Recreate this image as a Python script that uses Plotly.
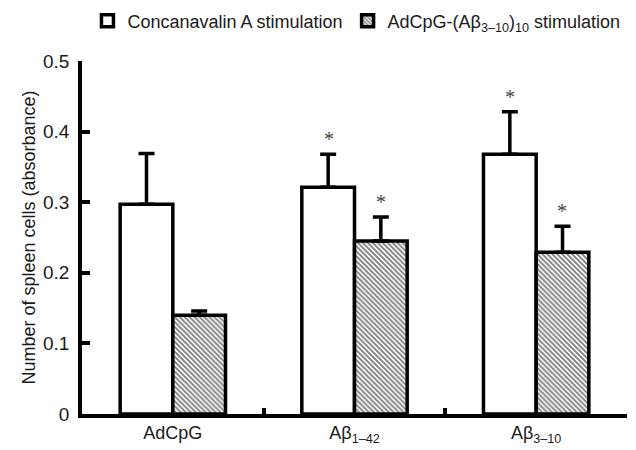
import plotly.graph_objects as go

categories = ["AdCpG", "Aβ<sub>1–42</sub>", "Aβ<sub>3–10</sub>"]
conA_values = [0.297, 0.321, 0.368]
conA_errors = [0.072, 0.047, 0.060]
adcpg_values = [0.140, 0.245, 0.229]
adcpg_errors = [0.006, 0.034, 0.037]
conA_sig = [False, True, True]
adcpg_sig = [False, True, True]
y_ticks = [0, 0.1, 0.2, 0.3, 0.4, 0.5]

FONT = "Liberation Sans, Arial, sans-serif"
STAR_FONT = dict(family="Liberation Serif, Times New Roman, serif", size=20, color="#444")

fig = go.Figure()
fig.add_trace(go.Bar(
    name="Concanavalin A stimulation",
    x=categories, y=conA_values,
    marker=dict(color="white", line=dict(color="black", width=3.5)),
    error_y=dict(type="data", array=conA_errors, arrayminus=[0]*3, symmetric=False,
                 color="black", thickness=3.5, width=8),
))
fig.add_trace(go.Bar(
    name="AdCpG-(Aβ<sub>3–10</sub>)<sub>10</sub> stimulation",
    x=categories, y=adcpg_values,
    marker=dict(color="white", line=dict(color="black", width=3.5),
                pattern=dict(shape="\\", fgcolor="black", bgcolor="white",
                             size=3.5, solidity=0.55)),
    error_y=dict(type="data", array=adcpg_errors, arrayminus=[0]*3, symmetric=False,
                 color="black", thickness=3.5, width=8),
))

annotations = []
for i, c in enumerate(categories):
    if conA_sig[i]:
        annotations.append(dict(x=c, y=conA_values[i] + conA_errors[i], xref="x", yref="y",
                                text="*", showarrow=False, xshift=-26, yshift=15,
                                font=STAR_FONT))
    if adcpg_sig[i]:
        annotations.append(dict(x=c, y=adcpg_values[i] + adcpg_errors[i], xref="x", yref="y",
                                text="*", showarrow=False, xshift=26, yshift=15,
                                font=STAR_FONT))

# page body has an 8px default margin, so the figure is 8px smaller than the window
fig.update_layout(
    width=628, height=442,
    margin=dict(l=74, r=9, t=53, b=36, autoexpand=False),
    paper_bgcolor="white", plot_bgcolor="white",
    barmode="group", bargap=0.42, bargroupgap=0,
    font=dict(family=FONT, size=18, color="#1a1a1a"),
    showlegend=True,
    legend=dict(orientation="h", x=0.01, xanchor="left", y=1.113, yanchor="middle",
                font=dict(size=18), itemwidth=30, traceorder="normal"),
    annotations=annotations,
)
fig.update_xaxes(
    showline=True, linecolor="black", linewidth=3.5,
    ticks="inside", tickson="boundaries", ticklen=6, tickwidth=3.5, tickcolor="black",
    showgrid=False, zeroline=False, automargin=False,
    tickfont=dict(size=18),
)
fig.update_yaxes(
    range=[0, 0.5], tickvals=y_ticks,
    showline=True, linecolor="black", linewidth=3.5,
    ticks="inside", ticklen=8, tickwidth=3.5, tickcolor="black",
    showgrid=False, zeroline=False, automargin=False,
    tickfont=dict(size=19), ticklabelstandoff=5,
    title=dict(text="Number of spleen cells (absorbance)", font=dict(size=18), standoff=4),
)

fig.write_html("out.html")
